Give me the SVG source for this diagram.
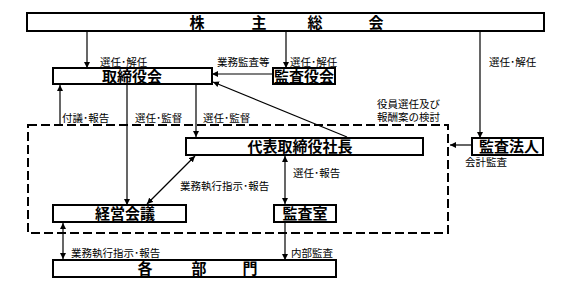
<svg xmlns="http://www.w3.org/2000/svg" width="568" height="289" viewBox="0 0 568 289">
<style>
.box{fill:#fff;stroke:#000;stroke-width:2}
.bt{font-family:"Liberation Sans","Noto Sans CJK JP",sans-serif;font-weight:bold;font-size:15px;text-anchor:middle;fill:#000}
.lb{font-family:"Liberation Sans","Noto Sans CJK JP",sans-serif;font-size:10.5px;fill:#000}
.ln{fill:none;stroke:#000;stroke-width:1.2}
.dash{fill:none;stroke:#000;stroke-width:2;stroke-dasharray:9,4}
</style>
<defs>
<marker id="ah" viewBox="0 0 10 10" refX="10" refY="5" markerWidth="6" markerHeight="6" orient="auto-start-reverse" markerUnits="userSpaceOnUse">
<path d="M0,0 L10,5 L0,10 z" fill="#000"/>
</marker>
</defs>
<rect class="dash" x="28" y="125" width="420" height="108"/>
<g id="connectors">
<line class="ln" x1="87" y1="31" x2="87" y2="68" marker-end="url(#ah)"/>
<line class="ln" x1="286" y1="31" x2="286" y2="68" marker-end="url(#ah)"/>
<line class="ln" x1="480" y1="31" x2="480" y2="138" marker-end="url(#ah)"/>
<line class="ln" x1="273" y1="74" x2="212" y2="74" marker-end="url(#ah)"/>
<line class="ln" x1="347" y1="137" x2="213" y2="82" marker-end="url(#ah)"/>
<line class="ln" x1="60" y1="125" x2="60" y2="85" marker-end="url(#ah)"/>
<line class="ln" x1="127" y1="84" x2="127" y2="205" marker-end="url(#ah)"/>
<line class="ln" x1="196" y1="84" x2="196" y2="137" marker-end="url(#ah)"/>
<line class="ln" x1="472" y1="145" x2="450" y2="145" marker-end="url(#ah)"/>
<line class="ln" x1="285" y1="156" x2="285" y2="204" marker-start="url(#ah)" marker-end="url(#ah)"/>
<line class="ln" x1="195" y1="156" x2="147" y2="204" marker-start="url(#ah)" marker-end="url(#ah)"/>
<line class="ln" x1="63" y1="223" x2="63" y2="259" marker-start="url(#ah)" marker-end="url(#ah)"/>
<line class="ln" x1="285" y1="222" x2="285" y2="260" marker-end="url(#ah)"/>
</g>
<g id="shareholders">
<rect class="box" x="27" y="13" width="517" height="18"/>
<text class="bt" x="197" y="28">株</text>
<text class="bt" x="259" y="28">主</text>
<text class="bt" x="315" y="28">総</text>
<text class="bt" x="376" y="28">会</text>
</g>
<g id="board">
<rect class="box" x="53" y="68" width="159" height="16"/>
<text class="bt" x="132" y="82">取締役会</text>
</g>
<g id="auditboard">
<rect class="box" x="273" y="68" width="62" height="16"/>
<text class="bt" x="304" y="82">監査役会</text>
</g>
<g id="president">
<rect class="box" x="186" y="138" width="237" height="17"/>
<text class="bt" x="300" y="152">代表取締役社長</text>
</g>
<g id="auditfirm">
<rect class="box" x="472" y="138" width="71" height="17"/>
<text class="bt" x="509" y="152">監査法人</text>
</g>
<g id="mgmt">
<rect class="box" x="53" y="205" width="133" height="17"/>
<text class="bt" x="125" y="219">経営会議</text>
</g>
<g id="auditroom">
<rect class="box" x="274" y="205" width="62" height="17"/>
<text class="bt" x="305" y="219">監査室</text>
</g>
<g id="departments">
<rect class="box" x="53" y="260" width="283" height="17"/>
<text class="bt" x="145" y="274">各</text>
<text class="bt" x="199" y="274">部</text>
<text class="bt" x="250" y="274">門</text>
</g>
<g id="labels">
<text class="lb" x="100" y="66">選任･解任</text>
<text class="lb" x="217" y="66">業務監査等</text>
<text class="lb" x="290" y="66">選任･解任</text>
<text class="lb" x="489" y="66">選任･解任</text>
<text class="lb" x="62" y="122">付議･報告</text>
<text class="lb" x="135" y="122">選任･監督</text>
<text class="lb" x="203" y="122">選任･監督</text>
<text class="lb" x="377" y="108">役員選任及び</text>
<text class="lb" x="377" y="121">報酬案の検討</text>
<text class="lb" x="465" y="166">会計監査</text>
<text class="lb" x="180" y="190">業務執行指示･報告</text>
<text class="lb" x="293" y="177">選任･報告</text>
<text class="lb" x="71" y="257">業務執行指示･報告</text>
<text class="lb" x="291" y="257">内部監査</text>
</g>
</svg>
